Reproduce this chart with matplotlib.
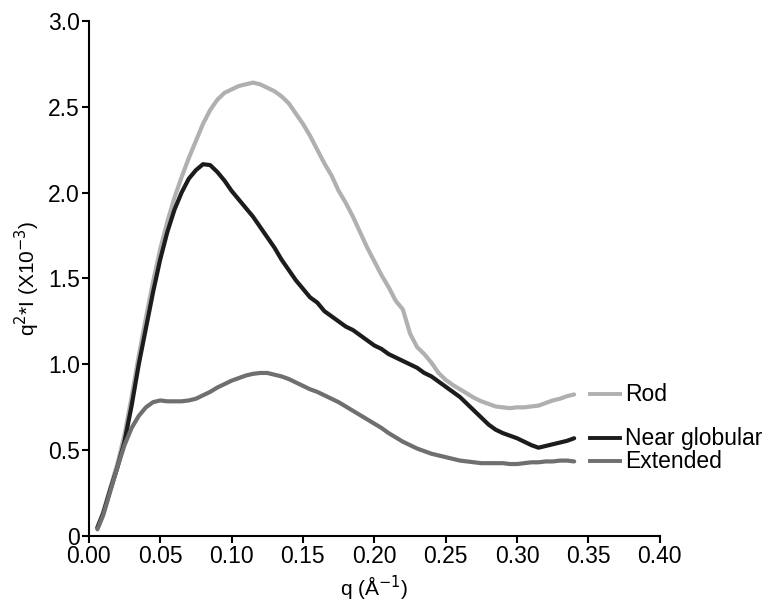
import matplotlib
matplotlib.use("Agg")
import matplotlib.pyplot as plt

plt.rcParams['font.family'] = ['Liberation Sans', 'DejaVu Sans']

# scattering vector q (1/A)
q = [0.006, 0.010, 0.015, 0.020, 0.025, 0.030, 0.035, 0.040, 0.045, 0.050,
     0.055, 0.060, 0.065, 0.070, 0.075, 0.080, 0.085, 0.090, 0.095, 0.100,
     0.105, 0.110, 0.115, 0.120, 0.125, 0.130, 0.135, 0.140, 0.145, 0.150,
     0.155, 0.160, 0.165, 0.170, 0.175, 0.180, 0.185, 0.190, 0.195, 0.200,
     0.205, 0.210, 0.215, 0.220, 0.225, 0.230, 0.235, 0.240, 0.245, 0.250,
     0.255, 0.260, 0.265, 0.270, 0.275, 0.280, 0.285, 0.290, 0.295, 0.300,
     0.305, 0.310, 0.315, 0.320, 0.325, 0.330, 0.335, 0.340]

rod = [0.05, 0.14, 0.28, 0.42, 0.59, 0.81, 1.05, 1.27, 1.48, 1.67,
       1.83, 1.97, 2.09, 2.20, 2.30, 2.40, 2.48, 2.54, 2.58, 2.60,
       2.62, 2.63, 2.64, 2.63, 2.61, 2.59, 2.56, 2.52, 2.46, 2.40,
       2.33, 2.25, 2.17, 2.10, 2.01, 1.94, 1.86, 1.77, 1.68, 1.60,
       1.52, 1.45, 1.37, 1.32, 1.18, 1.10, 1.06, 1.01, 0.95, 0.91,
       0.88, 0.855, 0.83, 0.805, 0.785, 0.77, 0.755, 0.75, 0.745, 0.75,
       0.75, 0.755, 0.76, 0.775, 0.79, 0.80, 0.815, 0.825]

near_globular = [0.05, 0.13, 0.27, 0.40, 0.55, 0.76, 1.00, 1.21, 1.42, 1.61,
                 1.77, 1.90, 2.00, 2.08, 2.13, 2.165, 2.16, 2.12, 2.07, 2.01,
                 1.96, 1.91, 1.86, 1.80, 1.74, 1.68, 1.61, 1.55, 1.49, 1.44,
                 1.39, 1.36, 1.31, 1.28, 1.25, 1.22, 1.20, 1.17, 1.14, 1.11,
                 1.09, 1.06, 1.04, 1.02, 1.00, 0.98, 0.95, 0.93, 0.90, 0.87,
                 0.84, 0.81, 0.77, 0.73, 0.69, 0.65, 0.62, 0.60, 0.585, 0.57,
                 0.55, 0.53, 0.515, 0.525, 0.535, 0.545, 0.555, 0.57]

extended = [0.04, 0.12, 0.26, 0.40, 0.53, 0.63, 0.70, 0.75, 0.78, 0.79,
            0.785, 0.785, 0.785, 0.79, 0.80, 0.82, 0.84, 0.865, 0.885, 0.905,
            0.92, 0.935, 0.945, 0.95, 0.95, 0.94, 0.93, 0.915, 0.895, 0.875,
            0.855, 0.84, 0.82, 0.80, 0.78, 0.755, 0.73, 0.705, 0.68, 0.655,
            0.63, 0.60, 0.575, 0.55, 0.53, 0.51, 0.495, 0.48, 0.47, 0.46,
            0.45, 0.44, 0.435, 0.43, 0.425, 0.425, 0.425, 0.425, 0.42, 0.42,
            0.425, 0.43, 0.43, 0.435, 0.435, 0.44, 0.44, 0.435]

series = [("Rod", rod, "#b0b0b0"),
          ("Near globular", near_globular, "#1c1c1c"),
          ("Extended", extended, "#6f6f6f")]

x_ticks = [0.00, 0.05, 0.10, 0.15, 0.20, 0.25, 0.30, 0.35, 0.40]
y_ticks = [0, 0.5, 1.0, 1.5, 2.0, 2.5, 3.0]
y_labels = ["0", "0.5", "1.0", "1.5", "2.0", "2.5", "3.0"]

fig = plt.figure(figsize=(7.79, 6.10), dpi=100)
ax = fig.add_axes([0.114, 0.121, 0.733, 0.845])

for name, vals, col in series:
    ax.plot(q, vals, color=col, lw=3.0, solid_capstyle='round')
    # end-of-line key, placed level with the last value
    ax.plot([0.351, 0.372], [vals[-1], vals[-1]], color=col, lw=2.8,
            clip_on=False)
    ax.text(0.3755, vals[-1], name, fontsize=16.5, va='center', ha='left',
            clip_on=False)

ax.set_xlim(0, 0.40)
ax.set_ylim(0, 3.0)
ax.set_xticks(x_ticks)
ax.set_xticklabels([f"{t:.2f}" for t in x_ticks])
ax.set_yticks(y_ticks)
ax.set_yticklabels(y_labels)

for s in ['top', 'right']:
    ax.spines[s].set_visible(False)
for s in ['left', 'bottom']:
    ax.spines[s].set_linewidth(1.5)
ax.tick_params(direction='out', length=5, width=1.5, labelsize=16.5, pad=1.5)

ax.set_xlabel("q (Å$^{-1}$)", fontsize=15, labelpad=4)
ax.set_ylabel("q$^{2}$*I (X10$^{-3}$)", fontsize=15, labelpad=4)

fig.savefig("out.png", dpi=100)
